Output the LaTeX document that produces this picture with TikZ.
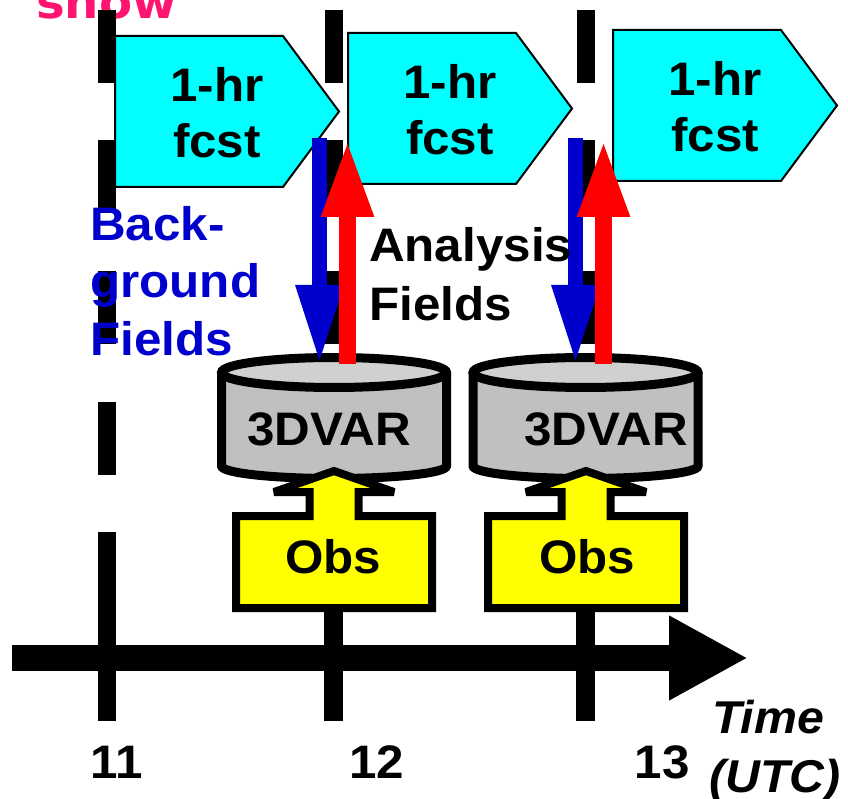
\documentclass[tikz,border=0pt]{standalone}
\usepackage{fontspec}
\setmainfont{Liberation Sans}[FakeStretch=1.05]
\newfontfamily\showfont{DejaVu Sans}[FakeStretch=1.05]
\usetikzlibrary{arrows.meta}

\definecolor{fcstcyan}{HTML}{00FFFF}
\definecolor{bgblue}{HTML}{0000CC}
\definecolor{anred}{HTML}{FF0000}
\definecolor{cylbody}{HTML}{C0C0C0}
\definecolor{cyltop}{HTML}{D0D0D0}
\definecolor{obsyellow}{HTML}{FFFF00}
\definecolor{showpink}{HTML}{FF1470}

\tikzset{
  big/.style={font=\fontsize{47}{47}\selectfont\bfseries, inner sep=0pt, anchor=base},
  bigleft/.style={big, anchor=base west},
  timeline/.style={line width=18pt, dash pattern=on 73pt off 57.5pt},
  tickmark/.style={line width=18.5pt},
  timeaxis/.style={line width=26pt, -{Triangle[length=79pt,width=79pt]}},
  fcstbox/.style={fill=fcstcyan, draw=black, line width=2pt, line join=miter},
  cylside/.style={fill=cylbody, draw=black, line width=9pt},
  cylcap/.style={fill=cyltop, draw=black, line width=9pt},
  obsshape/.style={fill=obsyellow, draw=black, line width=8pt, line join=miter, miter limit=4},
  bgarrow/.style={draw=bgblue, line width=15pt, -{Triangle[length=79pt,width=44pt]}},
  anarrow/.style={draw=anred, line width=17pt, -{Triangle[length=77pt,width=48pt]}},
}

\begin{document}
\begin{tikzpicture}[x=1pt, y=-1pt]
\useasboundingbox (0,0) rectangle (848,799);

% partly visible heading above the top edge
\node[anchor=base west, inner sep=0pt, text=showpink,
      font=\showfont\fontsize{46}{46}\selectfont\bfseries] (show) at (36,19) {show};

% dashed time lines at 11, 12 and 13 UTC
\foreach \x in {107,333.5,585.5}
  \draw[timeline] (\x,10) -- (\x,606);

% axis ticks and time axis
\foreach \x in {107,333.5,585.5}
  \draw[tickmark] (\x,595) -- (\x,721);
\coordinate (axL) at (12,658);
\coordinate (axR) at (748,658);
\draw[timeaxis] (axL) -- (axR);

% one-hour forecast pentagons
\foreach \l/\t [count=\i] in {115/36, 348/33, 613/30} {
  \draw[fcstbox] (\l,\t) -- ++(168,0) -- ++(56,75.5) -- ++(-56,75.5) -- ++(-168,0) -- cycle;
  \node[big] (fcsta\i) at (\l+102,\t+66) {1-hr};
  \node[big] (fcstb\i) at (\l+102,\t+122) {fcst};
}

% 3DVAR cylinders with observation inputs
\foreach \cx/\tx [count=\i] in {334/329, 585.5/606} {
  \draw[cylside] (\cx-112.5,372.5) -- (\cx-112.5,466)
     arc[start angle=180, end angle=0, x radius=112.5, y radius=12.5]
     -- (\cx+112.5,372.5);
  \draw[cylcap] (\cx,372.5) ellipse [x radius=112.5, y radius=15];
  \node[big] (var\i) at (\tx,445) {3DVAR};
}
\foreach \cx/\tx [count=\i] in {334/333, 586/587} {
  \draw[obsshape] (\cx-98,608) -- (\cx-98,516) -- (\cx-24.5,516) -- (\cx-24.5,492)
     -- (\cx-60,492) -- (\cx,471) -- (\cx+60,492) -- (\cx+24.5,492)
     -- (\cx+24.5,516) -- (\cx+98,516) -- (\cx+98,608) -- cycle;
  \node[big] (obs\i) at (\tx,573) {Obs};
}

% background fields down, analysis fields up
\coordinate (bgs1) at (319.5,138);  \coordinate (bge1) at (319.5,364);
\coordinate (bgs2) at (575.5,138);  \coordinate (bge2) at (575.5,364);
\coordinate (ans1) at (347.5,364);  \coordinate (ane1) at (347.5,140);
\coordinate (ans2) at (603.5,364);  \coordinate (ane2) at (603.5,140);
\draw[bgarrow] (bgs1) -- (bge1);
\draw[bgarrow] (bgs2) -- (bge2);
\draw[anarrow] (ans1) -- (ane1);
\draw[anarrow] (ans2) -- (ane2);

% labels
\node[bigleft, text=bgblue] (bga) at (90,241) {Back-};
\node[bigleft, text=bgblue] (bgb) at (90,298) {ground};
\node[bigleft, text=bgblue] (bgc) at (90,355) {Fields};
\node[bigleft] (ana) at (369,262) {Analysis};
\node[bigleft] (anb) at (369,320) {Fields};

\node[big] (t11) at (117,778) {11};
\node[big] (t12) at (377,778) {12};
\node[big] (t13) at (662,778) {13};
\node[bigleft, font=\fontsize{46}{46}\selectfont\bfseries\itshape] (time) at (712,733) {Time};
\node[bigleft, font=\fontsize{46}{46}\selectfont\bfseries\itshape] (utc) at (709,792) {(UTC)};
\end{tikzpicture}
\end{document}
